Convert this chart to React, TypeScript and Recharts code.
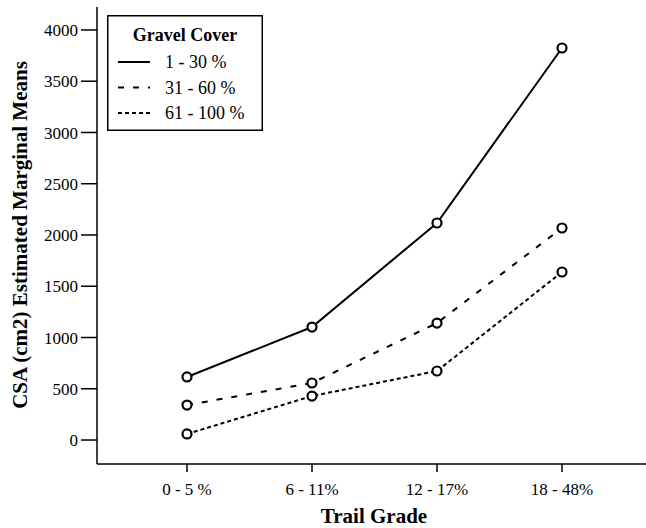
import { LineChart, Line, XAxis, YAxis, Legend, Label } from "recharts";

const grades = ["0 - 5 %", "6 - 11%", "12 - 17%", "18 - 48%"];
const cover1to30 = [615, 1102, 2117, 3824];
const cover31to60 = [341, 556, 1141, 2068];
const cover61to100 = [59, 429, 673, 1639];
const yTicks = [0, 500, 1000, 1500, 2000, 2500, 3000, 3500, 4000];

const Y_MIN = -234;
const Y_MAX = 4224;
const FONT = '"Liberation Serif", "Times New Roman", serif';

const series = [
  { key: "c1", name: "1 - 30 %", dash: undefined as string | undefined },
  { key: "c2", name: "31 - 60 %", dash: "6 9" },
  { key: "c3", name: "61 - 100 %", dash: "4 3" },
];

const data = grades.map((g, i) => ({
  grade: g,
  c1: cover1to30[i],
  c2: cover31to60[i],
  c3: cover61to100[i],
}));

function RingDot(props: any) {
  const { cx, cy } = props;
  if (cx == null || cy == null) return null;
  return <circle cx={cx} cy={cy} r={4.5} fill="#fff" stroke="#000" strokeWidth={2.2} />;
}

function LegendBox() {
  return (
    <svg width={156} height={116} style={{ display: "block" }}>
      <rect x={0.75} y={0.75} width={154.5} height={114.5} fill="#fff" stroke="#000" strokeWidth={1.5} />
      <text x={78} y={26} textAnchor="middle" fontFamily={FONT} fontWeight="bold" fontSize={18}>
        Gravel Cover
      </text>
      {series.map((s, i) => (
        <g key={s.key}>
          <line x1={11} x2={43} y1={47 + i * 25.5} y2={47 + i * 25.5} stroke="#000" strokeWidth={2} strokeDasharray={s.dash} />
          <text x={58} y={53 + i * 25.5} fontFamily={FONT} fontSize={18}>
            {s.name}
          </text>
        </g>
      ))}
    </svg>
  );
}

export default function App() {
  return (
    <div style={{ position: "absolute", left: 0, top: 0, width: 646, height: 528, overflow: "hidden", background: "#fff" }}>
      <LineChart width={700} height={528} data={data} margin={{ top: 7, right: 48, bottom: 0, left: 0 }}>
        {/* top edge of the frame */}
        <XAxis xAxisId="top" orientation="top" dataKey="grade" height={0} tick={false} tickLine={false} stroke="#000" strokeWidth={1.5} />
        <XAxis
          dataKey="grade"
          padding={{ left: 90, right: 90 }}
          height={64}
          tickSize={8}
          tickMargin={11}
          stroke="#000"
          strokeWidth={1.5}
          tick={{ fill: "#000", fontSize: 17, fontFamily: FONT }}
        >
          <Label
            content={() => (
              <text x={374} y={523} textAnchor="middle" fontFamily={FONT} fontWeight="bold" fontSize={21}>
                Trail Grade
              </text>
            )}
          />
        </XAxis>
        <YAxis
          width={97}
          domain={[Y_MIN, Y_MAX]}
          ticks={yTicks}
          allowDataOverflow
          tickSize={16}
          tickMargin={3}
          stroke="#000"
          strokeWidth={1.5}
          tick={{ fill: "#000", fontSize: 17, fontFamily: FONT }}
        >
          <Label
            content={() => (
              <text
                x={20}
                y={235}
                transform="rotate(-90 20 235)"
                textAnchor="middle"
                dominantBaseline="central"
                fontFamily={FONT}
                fontWeight="bold"
                fontSize={21}
              >
                CSA (cm2) Estimated Marginal Means
              </text>
            )}
          />
        </YAxis>
        <Legend
          layout="horizontal"
          verticalAlign="middle"
          align="center"
          wrapperStyle={{ top: 15, left: 107, width: 156, height: 116 }}
          content={() => <LegendBox />}
        />
        {series.map((s) => (
          <Line
            key={s.key}
            dataKey={s.key}
            name={s.name}
            stroke="#000"
            strokeWidth={2}
            strokeDasharray={s.dash}
            dot={<RingDot />}
            activeDot={false}
            isAnimationActive={false}
          />
        ))}
      </LineChart>
    </div>
  );
}
